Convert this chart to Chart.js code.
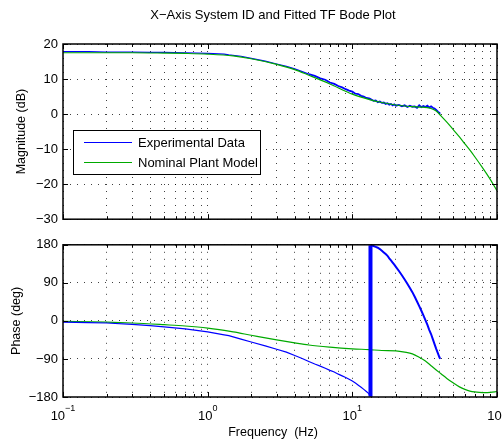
<!DOCTYPE html>
<html>
<head>
<meta charset="utf-8">
<script src="https://cdn.jsdelivr.net/npm/chart.js@4.4.1/dist/chart.umd.min.js"></script>
<style>
  html, body { margin: 0; padding: 0; background: #fff; }
  #wrap { position: relative; width: 502px; height: 440px; }
  canvas { position: absolute; left: 0; }
  #mag { top: 0; }
  #phase { top: 232px; }
</style>
</head>
<body>
<div id="wrap">
  <canvas id="mag" width="502" height="232"></canvas>
  <canvas id="phase" width="502" height="208"></canvas>
</div>
<script>
// experimental (measured) response
const expFreq = [0.1, 0.15, 0.2, 0.3, 0.4, 0.5, 0.7, 1.0, 1.3, 1.4, 1.7, 2.0, 2.5, 3.0, 3.5, 4.0, 4.5, 5.0, 5.5, 6.0,
  6.5, 7.0, 7.5, 8.0, 8.5, 9.0, 9.5, 10, 10.5, 11, 11.5, 12, 12.5, 13, 13.3, 13.35, 14, 14.5, 15, 15.5,
  16, 16.5, 17, 17.5, 18, 18.5, 19, 19.5, 20, 21, 22, 23, 24, 25, 26, 27, 28, 29, 30, 31,
  32, 33, 34, 35, 36, 37, 38, 39, 40, 40.5];
const expMag = [17.8, 17.8, 17.7, 17.7, 17.6, 17.6, 17.5, 17.3, 17.1, 16.9, 16.5, 15.9, 15.1, 14.3, 13.6, 12.9, 12.1, 11.4, 10.9, 10.2,
  9.8, 9.0, 8.6, 8.0, 7.6, 7.1, 6.7, 6.4, 5.8, 5.7, 5.2, 5.0, 4.6, 4.5, 4.2, 4.3, 3.8, 3.9, 3.4, 3.6,
  3.2, 3.3, 2.9, 3.1, 2.7, 2.9, 2.5, 2.8, 2.4, 2.6, 2.2, 2.5, 2.0, 2.4, 2.1, 2.2, 1.8, 2.5, 2.0, 2.3,
  2.0, 2.4, 1.9, 2.2, 1.8, 1.6, 1.2, 0.7, 0.3, 0.1];
const expPhase = [-3, -4, -5, -8, -11, -14, -19, -26, -33, -35, -43, -50, -59, -67, -74, -82, -89, -96, -102, -107,
  -112, -117, -121, -126, -130, -134, -138, -142, -147, -152, -157, -162, -167, -172, -179, 179, 177, 175, 173, 170,
  166, 162, 158, 154, 148, 143, 138, 133, 128, 118, 108, 98, 88, 78, 68, 57, 46, 35, 24, 13,
  2, -9, -21, -31, -43, -55, -66, -76, -86, -90];

// fitted nominal plant model
const modelFreq = [0.1, 0.2, 0.3, 0.5, 0.7, 1, 1.5, 2, 3, 4, 5, 7, 10, 13, 16, 20, 23, 26, 29, 32,
  35, 38, 41, 45, 50, 55, 60, 65, 70, 80, 90, 100];
const modelMag = [17.5, 17.5, 17.5, 17.4, 17.3, 17.1, 16.6, 15.8, 14.2, 12.7, 11.1, 8.6, 5.7, 4.2, 3.3, 2.6, 2.3, 2.1, 2.0, 1.9,
  1.6, 0.9, -0.5, -2.3, -4.5, -6.5, -8.5, -10.3, -12.1, -15.5, -18.7, -21.9];
const modelPhase = [-1, -3, -5, -9, -12, -17, -26, -34, -45, -52, -57, -62, -66, -68, -70, -71, -74, -78, -86, -95,
  -106, -116, -125, -136, -147, -156, -162, -166, -168, -169.5, -169, -167];

const seriesNames = ['Experimental Data', 'Nominal Plant Model'];
const magTicks = [-30, -20, -10, 0, 10, 20];
const phaseTicks = [-180, -90, 0, 90, 180];
const decadeTicks = [0.1, 1, 10, 100];
const decadeExps = ['\u22121', '0', '1', '2'];

const BLUE = '#0000ff';
const GREEN = '#00aa00';
const FONT = "'Liberation Sans', Arial, Helvetica, sans-serif";

Chart.defaults.font.family = FONT;
Chart.defaults.color = '#000';

const gridFreqs = [];
decadeTicks.slice(0, -1).forEach(d => {
  for (let k = 1; k < 10; k++) gridFreqs.push(+(d * k).toPrecision(3));
});
gridFreqs.push(100);

const pts = (xs, ys) => xs.map((x, i) => ({ x, y: ys[i] }));
const minus = v => (v < 0 ? '\u2212' + Math.abs(v) : String(v));

// box + inward tick marks, matlab style
const frame = {
  id: 'frame',
  afterDraw(chart) {
    const { ctx, chartArea: a, scales } = chart;
    ctx.save();
    ctx.strokeStyle = '#000';
    ctx.lineWidth = 1;
    ctx.beginPath();
    scales.x.ticks.forEach(t => {
      const x = Math.round(scales.x.getPixelForValue(t.value)) + 0.5;
      const len = decadeTicks.includes(t.value) ? 5 : 3;
      ctx.moveTo(x, a.top); ctx.lineTo(x, a.top + len);
      ctx.moveTo(x, a.bottom); ctx.lineTo(x, a.bottom - len);
    });
    scales.y.ticks.forEach(t => {
      const y = Math.round(scales.y.getPixelForValue(t.value)) + 0.5;
      ctx.moveTo(a.left, y); ctx.lineTo(a.left + 5, y);
      ctx.moveTo(a.right, y); ctx.lineTo(a.right - 5, y);
    });
    ctx.stroke();
    ctx.lineWidth = 1.5;
    ctx.strokeRect(a.left, a.top, a.right - a.left, a.bottom - a.top);
    ctx.restore();
  }
};

const magExtras = {
  id: 'magExtras',
  afterDraw(chart) {
    const ctx = chart.ctx;
    ctx.save();
    ctx.fillStyle = '#000';
    ctx.font = '13px ' + FONT;
    ctx.textAlign = 'center';
    ctx.textBaseline = 'alphabetic';
    ctx.fillText('X\u2212Axis System ID and Fitted TF Bode Plot', 273, 19);
    // legend
    ctx.fillStyle = '#fff';
    ctx.fillRect(73.5, 130.5, 187, 44);
    ctx.strokeStyle = '#000';
    ctx.lineWidth = 1;
    ctx.strokeRect(73.5, 130.5, 187, 44);
    const rows = [142.5, 162.5];
    chart.data.datasets.forEach((ds, i) => {
      ctx.strokeStyle = ds.borderColor;
      ctx.beginPath();
      ctx.moveTo(84, rows[i]); ctx.lineTo(132, rows[i]);
      ctx.stroke();
      ctx.fillStyle = '#000';
      ctx.textAlign = 'left';
      ctx.textBaseline = 'middle';
      ctx.fillText(ds.label, 138, rows[i] + 0.5);
    });
    ctx.restore();
  }
};

const phaseExtras = {
  id: 'phaseExtras',
  afterDraw(chart) {
    const { ctx, scales } = chart;
    ctx.save();
    ctx.fillStyle = '#000';
    ctx.textAlign = 'left';
    ctx.textBaseline = 'alphabetic';
    decadeTicks.forEach((v, i) => {
      const x = scales.x.getPixelForValue(v);
      ctx.font = '13px ' + FONT;
      const w1 = ctx.measureText('10').width;
      ctx.font = '9px ' + FONT;
      const w2 = ctx.measureText(decadeExps[i]).width;
      const x0 = x - (w1 + w2) / 2;
      ctx.font = '13px ' + FONT;
      ctx.fillText('10', x0, 188);
      ctx.font = '9px ' + FONT;
      ctx.fillText(decadeExps[i], x0 + w1, 178.5);
    });
    ctx.font = '12.5px ' + FONT;
    ctx.textAlign = 'center';
    ctx.fillText('Frequency  (Hz)', 273, 203.5);
    ctx.restore();
  }
};

const xScale = showHeight => ({
  type: 'logarithmic',
  min: 0.1,
  max: 100,
  afterBuildTicks: s => { s.ticks = gridFreqs.map(value => ({ value })); },
  afterFit: s => { s.height = showHeight; },
  ticks: { display: false, autoSkip: false },
  grid: { color: 'rgba(0,0,0,0.75)', drawTicks: false },
  border: { display: false, dash: [1, 6] }
});

const yScale = (min, max, ticks, title, titlePad) => ({
  min, max,
  afterBuildTicks: s => { s.ticks = ticks.map(value => ({ value })); },
  afterFit: s => { s.width = 63; },
  ticks: { padding: 5, font: { size: 13 }, callback: v => minus(v) },
  grid: { color: 'rgba(0,0,0,0.75)', drawTicks: false },
  border: { display: false, dash: [1, 6] },
  title: { display: true, text: title, font: { size: 12.5 }, padding: { top: titlePad, bottom: 0 } }
});

const common = {
  responsive: false,
  animation: false,
  devicePixelRatio: 1,
  plugins: { legend: { display: false }, tooltip: { enabled: false } },
  elements: { point: { radius: 0 }, line: { tension: 0 } }
};

new Chart(document.getElementById('mag'), {
  type: 'line',
  data: {
    datasets: [
      {
        label: seriesNames[0],
        data: pts(expFreq, expMag),
        borderColor: BLUE,
        borderWidth: 1.2,
        order: 1,
        segment: { borderWidth: c => (c.p0.parsed.x >= 5 ? 1.8 : 1.2) }
      },
      {
        label: seriesNames[1],
        data: pts(modelFreq, modelMag),
        borderColor: GREEN,
        borderWidth: 1.2,
        cubicInterpolationMode: 'monotone',
        order: 0
      }
    ]
  },
  options: {
    ...common,
    layout: { padding: { top: 44, right: 5, bottom: 9, left: 0 } },
    scales: {
      x: xScale(0),
      y: yScale(-30, 20, magTicks, 'Magnitude (dB)', 14.5)
    }
  },
  plugins: [frame, magExtras]
});

new Chart(document.getElementById('phase'), {
  type: 'line',
  data: {
    datasets: [
      {
        label: seriesNames[0],
        data: pts(expFreq, expPhase),
        borderColor: BLUE,
        borderWidth: 1.2,
        order: 0,
        segment: {
          borderWidth: c => (Math.abs(c.p1.parsed.y - c.p0.parsed.y) > 300 ? 4 : (c.p0.parsed.x >= 13.3 ? 2 : 1.2))
        }
      },
      {
        label: seriesNames[1],
        data: pts(modelFreq, modelPhase),
        borderColor: GREEN,
        borderWidth: 1.2,
        cubicInterpolationMode: 'monotone',
        order: 1
      }
    ]
  },
  options: {
    ...common,
    layout: { padding: { top: 7, right: 5, bottom: 0, left: 0 } },
    scales: {
      x: xScale(43),
      y: yScale(-180, 180, phaseTicks, 'Phase (deg)', 9.5)
    }
  },
  plugins: [frame, phaseExtras]
});
</script>
</body>
</html>
